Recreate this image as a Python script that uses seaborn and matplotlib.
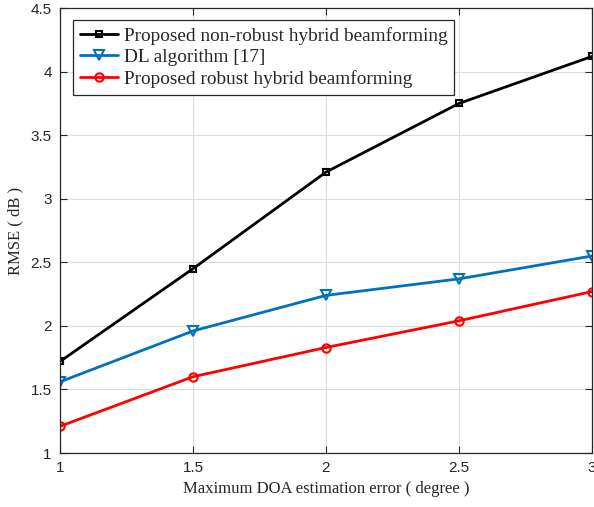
import matplotlib
matplotlib.use("Agg")
import matplotlib.pyplot as plt
import seaborn as sns
import pandas as pd

x_err = [1, 1.5, 2, 2.5, 3]
nonrobust = [1.72, 2.45, 3.21, 3.75, 4.12]
dl_alg = [1.56, 1.96, 2.24, 2.37, 2.55]
robust = [1.21, 1.60, 1.83, 2.04, 2.27]
labels = ["Proposed non-robust hybrid beamforming", "DL algorithm [17]",
          "Proposed robust hybrid beamforming"]

sns.set_style("ticks")
plt.rcParams['font.family'] = ['Liberation Sans', 'DejaVu Sans']

fig = plt.figure(figsize=(5.94, 5.07), dpi=100)
ax = fig.add_axes([0.101, 0.1065, 0.8956, 0.8775])

series = [(nonrobust, labels[0], "black", "s", 5),
          (dl_alg, labels[1], "#0072BD", "v", 7),
          (robust, labels[2], "#FF0000", "o", 6)]
for vals, lab, col, mk, ms in series:
    df = pd.DataFrame({"x": x_err, "y": vals})
    sns.lineplot(data=df, x="x", y="y", ax=ax, color=col, marker=mk, markersize=ms,
                 markerfacecolor="none", markeredgecolor=col, markeredgewidth=1.5,
                 linewidth=2, label=lab)

ax.set_xlim(1, 3)
ax.set_ylim(1, 4.5)
ax.set_xticks([1, 1.5, 2, 2.5, 3])
ax.set_xticklabels(["1", "1.5", "2", "2.5", "3"])
ax.set_yticks([1, 1.5, 2, 2.5, 3, 3.5, 4, 4.5])
ax.set_yticklabels(["1", "1.5", "2", "2.5", "3", "3.5", "4", "4.5"])
ax.grid(True, color="#dcdcdc", linewidth=0.8)
ax.set_axisbelow(True)
ax.tick_params(direction="in", length=5, width=0.8, labelsize=11, colors="#262626",
               top=True, right=True, pad=6)
for s in ax.spines.values():
    s.set_visible(True)
    s.set_color("#262626")
    s.set_linewidth(0.9)

ax.set_xlabel("Maximum DOA estimation error ( degree )", fontsize=12,
              family=["Liberation Serif"], color="#262626", labelpad=4)
ax.set_ylabel("RMSE ( dB )", fontsize=12, family=["Liberation Serif"], color="#262626",
              labelpad=5)

leg = ax.legend(loc="upper left", bbox_to_anchor=(0.024, 0.973),
                prop={"family": "Liberation Serif", "size": 13.9},
                frameon=True, fancybox=False, edgecolor="#262626", framealpha=1,
                handlelength=2.0, borderpad=0.35, labelspacing=0.2, handletextpad=0.3,
                borderaxespad=0)
leg.get_frame().set_linewidth(0.9)

fig.savefig("out.png", dpi=100)
